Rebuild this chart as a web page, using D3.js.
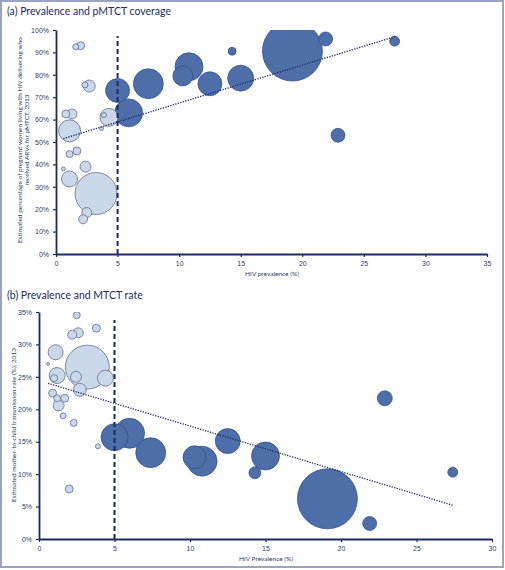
<!DOCTYPE html>
<html><head><meta charset="utf-8">
<script src="https://cdn.jsdelivr.net/npm/d3@7"></script>
<style>
html,body{margin:0;padding:0;background:#fff;}
svg{display:block;font-family:Lato,"Open Sans",sans-serif;}
</style></head>
<body><svg id="c" width="505" height="570"></svg>
<script>
// Panel (a): HIV prevalence vs pMTCT coverage
const aPrev = [1.6, 2.0, 2.7, 2.35, 5.0, 7.5, 5.9, 4.3, 3.9, 3.7, 0.8, 1.3, 1.1, 10.3, 10.8, 12.5, 14.3, 15.0, 19.2, 21.9, 27.5, 22.9, 1.1, 1.7, 0.6, 2.4, 1.1, 3.25, 2.5, 2.2];
const aCov  = [92.5, 93, 75, 75.5, 73, 76, 63, 61, 62, 56, 62.5, 62.5, 55, 79.5, 83.6, 76, 90.5, 78.5, 90.6, 96, 95, 53, 44.6, 46, 38, 39, 33.5, 27, 18.5, 15.5];
const aSize = [2.5, 4.4, 10, 2.5, 40, 62.5, 54.4, 22.5, 1.7, 1.1, 4.4, 6.9, 33.6, 27.8, 54.4, 40, 4.4, 47, 250, 13.6, 6.9, 13.6, 3.4, 4.4, 1.1, 8.4, 17.8, 122.5, 6.9, 5.6];
const aTrendX = [0.6, 27.5];
const aTrendY = [51.5, 97];
const aXTicks = [0, 5, 10, 15, 20, 25, 30, 35];
const aYTicks = [0, 10, 20, 30, 40, 50, 60, 70, 80, 90, 100];

// Panel (b): HIV prevalence vs MTCT rate
const bPrev = [2.5, 3.8, 2.6, 2.2, 1.1, 3.2, 0.6, 1.2, 1.0, 2.45, 4.4, 2.7, 0.9, 1.2, 1.7, 1.3, 1.6, 2.3, 3.9, 2.0, 5.0, 6.0, 7.4, 10.3, 10.8, 12.5, 14.3, 15.0, 19.1, 21.9, 27.4, 22.9];
const bRate = [34.5, 32.5, 31.8, 31.5, 28.8, 26.5, 27, 25.2, 24.8, 25, 24.8, 23, 22.5, 21.7, 21.7, 20.6, 19, 17.9, 14.3, 7.7, 15.7, 16.3, 13.3, 12.6, 12, 15.1, 10.2, 12.8, 6.2, 2.4, 10.3, 21.7];
const bSize = [3.4, 4.4, 6.9, 5.6, 15.6, 134, 0.6, 17.8, 3.4, 8.4, 17.8, 11.7, 4.4, 3.4, 4.4, 8.4, 2.5, 3.4, 1.7, 4.4, 50.6, 62.5, 62.5, 36.7, 62.5, 43.4, 10, 54.4, 250, 13.6, 6.9, 15.6];
const bTrendX = [0.6, 27.4];
const bTrendY = [24.0, 5.2];
const bXTicks = [0, 5, 10, 15, 20, 25, 30];
const bYTicks = [0, 5, 10, 15, 20, 25, 30, 35];

const threshold = 5;

const svg = d3.select("#c");
const navy = "#1c2a63";
const textCol = "#2e3b66";
const lightFill = "#cbd8e9", lightStroke = "#4d5d8a";
const darkFill = "#4e6ea9", darkStroke = "#2f4c87";

svg.append("rect").attr("x",1).attr("y",1).attr("width",502).attr("height",566)
  .attr("fill","#fff").attr("stroke","#9aa3bf").attr("stroke-width",2);

const rScale = d3.scaleSqrt().domain([0, 250]).range([0, 30]);
const defs = svg.append("defs");

function panel(o) {
  const g = svg.append("g");
  const x = d3.scaleLinear().domain(o.xDom).range(o.xRange);
  const y = d3.scaleLinear().domain(o.yDom).range(o.yRange);

  defs.append("clipPath").attr("id", o.id).append("rect")
    .attr("x", o.xRange[0]).attr("y", o.yRange[1])
    .attr("width", o.xRange[1] - o.xRange[0]).attr("height", o.yRange[0] - o.yRange[1]);

  g.append("text").attr("x", 7).attr("y", o.titleY).attr("font-size", 10.5)
    .attr("fill", navy).text(o.title);

  // bubbles
  const data = o.px.map((v, i) => ({x: v, y: o.py[i], s: o.ps[i]}))
    .sort((a, b) => b.s - a.s);
  g.append("g").attr("clip-path", `url(#${o.id})`).selectAll("circle").data(data).join("circle")
    .attr("cx", d => x(d.x)).attr("cy", d => y(d.y)).attr("r", d => rScale(d.s))
    .attr("fill", d => d.x >= threshold ? darkFill : lightFill)
    .attr("stroke", d => d.x >= threshold ? darkStroke : lightStroke)
    .attr("stroke-width", 0.7);

  // axes
  const xa = g.append("g").attr("transform", `translate(0,${o.yRange[0]})`)
    .call(d3.axisBottom(x).tickValues(o.xTicks).tickSize(3).tickSizeOuter(0).tickFormat(d3.format("d")));
  const ya = g.append("g").attr("transform", `translate(${o.xRange[0]},0)`)
    .call(d3.axisLeft(y).tickValues(o.yTicks).tickSize(3).tickSizeOuter(0).tickFormat(d => d + "%"));
  [xa, ya].forEach(a => {
    a.select(".domain").attr("stroke", navy).attr("stroke-width", 1.8);
    a.selectAll(".tick line").attr("stroke", navy).attr("stroke-width", 1.2);
    a.selectAll(".tick text").attr("fill", textCol).attr("font-size", 7);
  });
  xa.selectAll(".tick text").attr("dy", "0.9em");
  ya.selectAll(".tick text").attr("dx", "-1px");

  // axis titles
  g.append("text").attr("x", o.xTitleX).attr("y", o.xTitleY).attr("text-anchor","middle")
    .attr("font-size", 6.5).attr("fill", textCol).text(o.xTitle);
  const yt = g.append("text").attr("transform", `translate(${o.yTitleX},${o.yTitleY}) rotate(-90)`)
    .attr("text-anchor","middle").attr("font-size", 6.5).attr("fill", textCol);
  o.yTitle.forEach((t, i) => yt.append("tspan").attr("x", 0).attr("dy", i === 0 ? 0 : "1.15em").text(t));

  // threshold line
  g.append("line").attr("x1", x(threshold)).attr("x2", x(threshold))
    .attr("y1", o.yRange[0]).attr("y2", o.dashTop)
    .attr("stroke", navy).attr("stroke-width", 2).attr("stroke-dasharray", "5,3");

  // trend line
  g.append("line").attr("x1", x(o.tx[0])).attr("y1", y(o.ty[0]))
    .attr("x2", x(o.tx[1])).attr("y2", y(o.ty[1]))
    .attr("stroke", navy).attr("stroke-width", 1.3).attr("stroke-dasharray", "1.3,1.3");
}

panel({
  id: "clipA",
  title: "(a) Prevalence and pMTCT coverage", titleY: 15,
  xDom: [0, 35], xRange: [56, 487], yDom: [0, 100], yRange: [254, 30],
  xTicks: aXTicks, yTicks: aYTicks,
  xTitle: "HIV prevalence (%)", xTitleX: 272, xTitleY: 276,
  yTitle: ["Estimated percentage of pregnant women living with HIV delivering who", "received ARVs for pMTCT, 2013"],
  yTitleX: 22, yTitleY: 140,
  px: aPrev, py: aCov, ps: aSize, tx: aTrendX, ty: aTrendY, dashTop: 36
});

panel({
  id: "clipB",
  title: "(b) Prevalence and MTCT rate", titleY: 299,
  xDom: [0, 30], xRange: [39, 492], yDom: [0, 35], yRange: [539, 312],
  xTicks: bXTicks, yTicks: bYTicks,
  xTitle: "HIV Prevalence (%)", xTitleX: 266, xTitleY: 561,
  yTitle: ["Estimated mother-to-child transmission rate (%), 2013"],
  yTitleX: 16, yTitleY: 425,
  px: bPrev, py: bRate, ps: bSize, tx: bTrendX, ty: bTrendY, dashTop: 320
});
</script></body></html>
